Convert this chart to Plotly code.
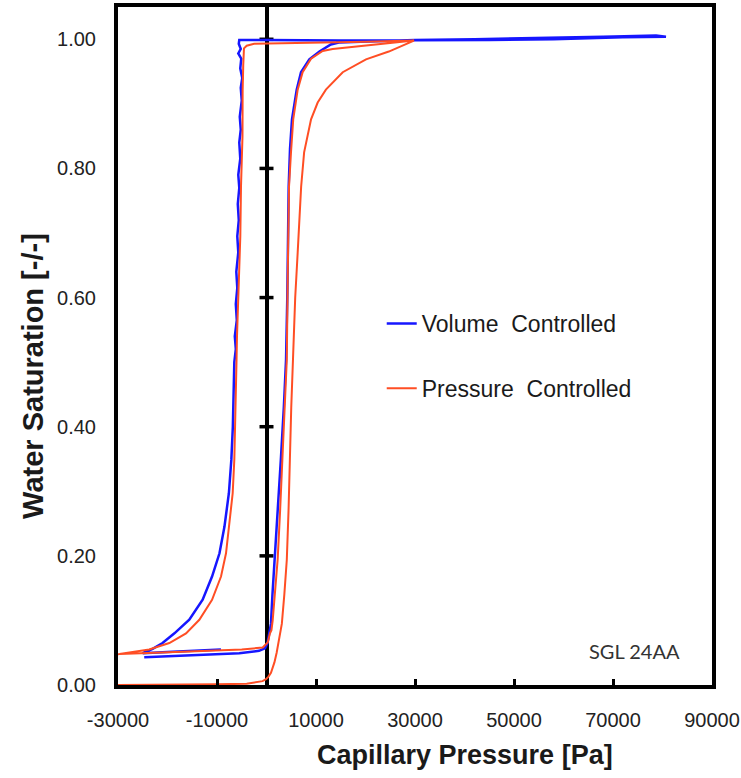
import plotly.graph_objects as go

# ---------------- data ----------------
vol_pressure = [
    -24700, -21000, -18300, -12000, -5500, -1500, -300, 200, 600, 900, 1200, 1600, 2100,
    2900, 3500, 3950, 4200, 4350, 4480, 4750, 5150, 6100, 6970, 8650, 10700, 13000, 14600,
    22000, 30000, 42000, 50000, 58800, 68000, 78700, 80700,
    72000, 58000, 45000, 30000, 15000, 0, -5500,
    -5600, -5200, -5700, -5100, -5300, -4900, -5200, -5000, -5400, -5200, -5500, -5300,
    -5700, -5500, -5800, -5600, -5900, -5700, -6100, -5900, -6200, -6000, -6400, -6200,
    -6500, -6600, -6800, -7100, -7600, -8500, -9500, -11000, -12900, -15600, -18600,
    -21000, -23000, -24800,
    -25000, -20000, -15000, -9200,
]
vol_saturation = [
    0.043, 0.044, 0.045, 0.047, 0.049, 0.053, 0.057, 0.065, 0.080, 0.095, 0.140, 0.194, 0.260,
    0.349, 0.430, 0.504, 0.600, 0.700, 0.772, 0.830, 0.876, 0.922, 0.949, 0.969, 0.981, 0.992, 0.995,
    0.997, 0.999, 1.000, 1.001, 1.002, 1.004, 1.006, 1.004,
    1.003, 1.000, 0.999, 0.998, 0.998, 0.999, 0.999,
    0.993, 0.985, 0.978, 0.970, 0.955, 0.940, 0.925, 0.905, 0.880, 0.860, 0.840, 0.815,
    0.790, 0.770, 0.745, 0.720, 0.695, 0.670, 0.640, 0.615, 0.590, 0.565, 0.540, 0.520,
    0.500, 0.452, 0.400, 0.349, 0.297, 0.245, 0.204, 0.168, 0.132, 0.101, 0.080,
    0.065, 0.056, 0.050,
    0.049, 0.051, 0.053, 0.055,
]

pres_pressure = [
    -31000, -20000, -10000, -4000, -2000, -800, -100, 400, 900, 1300, 1600, 2050, 2600, 3100,
    3600, 4100, 4450, 4700, 5000, 5350, 5800, 6300, 6630, 7000, 7600, 8320, 9000, 10340,
    12000, 15400, 20100, 24700, 27500, 29800,
    20000, 10000, 0, -2500, -4000, -4550, -4700, -4820, -4850, -5150, -5290, -5690, -5960,
    -6050, -6160, -6290, -6500, -6830, -7510, -8180, -9190, -11000, -13570, -16260, -19630,
    -23700, -29700, -31000,
    -29700, -15600, -5000, -770, 240, 700, 1000, 1250, 1700, 2250, 2750, 3250, 3700, 4100,
    4300, 4550, 4950, 5400, 6300, 7300, 9000, 11350, 13370, 18080, 24800, 29800,
]
pres_saturation = [
    0.000, 0.000, 0.001, 0.002, 0.004, 0.006, 0.009, 0.013, 0.019, 0.027, 0.035, 0.050, 0.075, 0.095,
    0.140, 0.194, 0.270, 0.349, 0.430, 0.504, 0.600, 0.670, 0.721, 0.772, 0.825, 0.850, 0.876, 0.902,
    0.922, 0.949, 0.969, 0.981, 0.991, 0.998,
    0.996, 0.995, 0.994, 0.993, 0.990, 0.986, 0.960, 0.920, 0.850, 0.773, 0.695, 0.618, 0.540,
    0.504, 0.452, 0.400, 0.349, 0.297, 0.245, 0.204, 0.168, 0.132, 0.101, 0.080, 0.065,
    0.055, 0.048, 0.047,
    0.048, 0.052, 0.055, 0.058, 0.066, 0.080, 0.085, 0.100, 0.140, 0.194, 0.270, 0.349, 0.430, 0.504,
    0.640, 0.772, 0.825, 0.876, 0.922, 0.949, 0.970, 0.982, 0.985, 0.989, 0.994, 0.998,
]

series_names = ["Volume  Controlled", "Pressure  Controlled"]
x_title = "Capillary Pressure [Pa]"
y_title = "Water Saturation [-/-]"
sample_label = "SGL 24AA"

x_range = [-30000, 90000]
x_tick_values = [-30000, -10000, 10000, 30000, 50000, 70000, 90000]
x_tick_labels = ["-30000", "-10000", "10000", "30000", "50000", "70000", "90000"]
y_range = [0, 1.05]
y_tick_values = [0.0, 0.2, 0.4, 0.6, 0.8, 1.0]
y_tick_labels = ["0.00", "0.20", "0.40", "0.60", "0.80", "1.00"]

# ---------------- figure ----------------
BLUE = "#1616FF"
ORANGE = "#FF4E24"
FONT = "Liberation Sans, Arial, sans-serif"

fig = go.Figure()
fig.add_trace(go.Scatter(x=vol_pressure, y=vol_saturation, mode="lines",
                         name=series_names[0], legendgroup="v",
                         line=dict(color=BLUE, width=2.5)))
fig.add_trace(go.Scatter(x=pres_pressure, y=pres_saturation, mode="lines",
                         name=series_names[1], legendgroup="p",
                         line=dict(color=ORANGE, width=2)))

W, H = 741, 778
ml, mr, mt, mb = 118, 29, 7, 93
plot_w = W - ml - mr

# crossing tick marks on the vertical axis drawn at P = 0
half_tick = 7 * (x_range[1] - x_range[0]) / plot_w
for yt in y_tick_values[1:]:
    fig.add_shape(type="line", xref="x", yref="y", x0=-half_tick, x1=half_tick,
                  y0=yt, y1=yt, line=dict(color="black", width=3.5), layer="below")

fig.update_layout(
    width=W, height=H,
    margin=dict(l=ml, r=mr, t=mt, b=mb, autoexpand=False),
    paper_bgcolor="white", plot_bgcolor="white",
    showlegend=True,
    legend=dict(x=0.444, y=0.565, xanchor="left", yanchor="top",
                font=dict(family=FONT, size=23, color="#1a1a1a"),
                bgcolor="rgba(0,0,0,0)", tracegroupgap=32, itemwidth=30),
    xaxis=dict(range=x_range, tickmode="array", tickvals=x_tick_values, ticktext=x_tick_labels,
               ticks="inside", ticklen=6, tickwidth=3, tickcolor="black",
               showline=True, linecolor="black", linewidth=4, mirror=True,
               showgrid=False, zeroline=True, zerolinecolor="black", zerolinewidth=4,
               tickfont=dict(family=FONT, size=20, color="#222222"),
               ticklabelstandoff=14, automargin=False),
    yaxis=dict(range=y_range, tickmode="array", tickvals=y_tick_values, ticktext=y_tick_labels,
               ticks="", showline=True, linecolor="black", linewidth=4, mirror=True,
               showgrid=False, zeroline=False,
               tickfont=dict(family=FONT, size=20, color="#222222"),
               ticklabelstandoff=14, automargin=False),
    annotations=[
        dict(text=x_title, xref="paper", yref="paper", x=0.584, y=-0.103,
             xanchor="center", yanchor="middle", showarrow=False,
             font=dict(family=FONT, size=27, color="#1a1a1a", weight="bold")),
        dict(text=y_title, xref="paper", yref="paper", x=-0.143, y=0.456,
             xanchor="center", yanchor="middle", showarrow=False, textangle=-90,
             font=dict(family=FONT, size=29, color="#1a1a1a", weight="bold")),
        dict(text=sample_label, xref="paper", yref="paper", x=0.870, y=0.050,
             xanchor="center", yanchor="middle", showarrow=False,
             font=dict(family="Lato, Open Sans, sans-serif", size=20, color="#333333")),
    ],
)

fig.write_html("out.html")
